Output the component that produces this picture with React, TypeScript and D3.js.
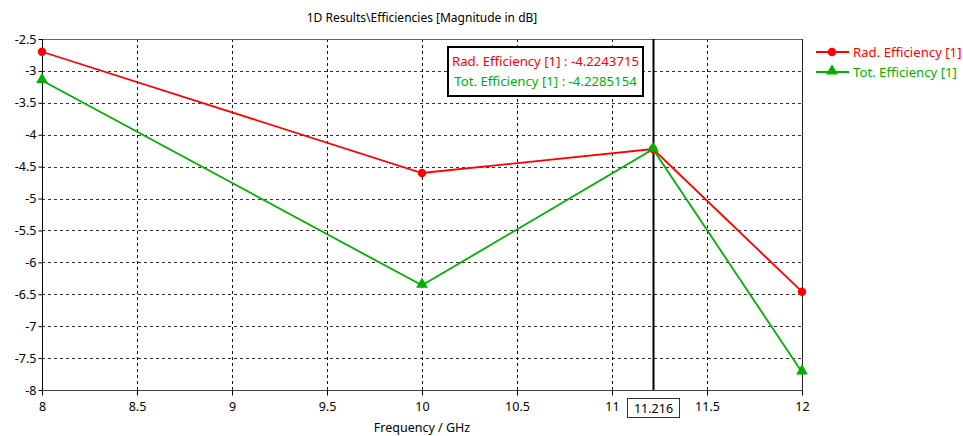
import React from "react";
import * as d3 from "d3";

const freqs = [8, 10, 11.216, 12];
const radEff = [-2.7, -4.6, -4.2243715, -6.46];
const totEff = [-3.15, -6.36, -4.2285154, -7.72];
const xTicks = [8, 8.5, 9, 9.5, 10, 10.5, 11, 11.5, 12];
const yTicks = [-2.5, -3, -3.5, -4, -4.5, -5, -5.5, -6, -6.5, -7, -7.5, -8];
const markerFreq = 11.216;
const seriesNames = ["Rad. Efficiency [1]", "Tot. Efficiency [1]"];
const markerValues = ["-4.2243715", "-4.2285154"];

const RED = "#ff0000";
const GREEN = "#00b000";
const FONT = "'Noto Sans', 'DejaVu Sans', sans-serif";

function EfficiencyChart() {
  const ref = React.useRef<SVGSVGElement>(null);
  const width = 963;
  const height = 436;
  const left = 42;
  const right = 802;
  const top = 39;
  const bottom = 390;

  React.useEffect(() => {
    document.body.style.margin = "0";
    const svg = d3.select(ref.current);
    svg.selectAll("*").remove();

    const x = d3.scaleLinear().domain([8, 12]).range([left, right]);
    const y = d3.scaleLinear().domain([-8, -2.5]).range([bottom, top]);

    svg.append("rect").attr("width", width).attr("height", height).attr("fill", "#fff");

    // grid
    svg
      .append("g")
      .selectAll("line")
      .data(yTicks.slice(1, -1))
      .enter()
      .append("line")
      .attr("x1", left)
      .attr("x2", right)
      .attr("y1", (d) => Math.round(y(d)) + 0.5)
      .attr("y2", (d) => Math.round(y(d)) + 0.5)
      .attr("stroke", "#333")
      .attr("stroke-dasharray", "3,3");
    svg
      .append("g")
      .selectAll("line")
      .data(xTicks.slice(1, -1))
      .enter()
      .append("line")
      .attr("y1", top)
      .attr("y2", bottom)
      .attr("x1", (d) => Math.round(x(d)) + 0.5)
      .attr("x2", (d) => Math.round(x(d)) + 0.5)
      .attr("stroke", "#111")
      .attr("stroke-dasharray", "3,3");

    // frame
    svg.append("line").attr("x1", left).attr("x2", right + 1).attr("y1", top + 0.5).attr("y2", top + 0.5).attr("stroke", "#666");
    svg.append("line").attr("x1", right + 0.5).attr("x2", right + 0.5).attr("y1", top).attr("y2", bottom).attr("stroke", "#222");

    // axes
    const yAxis = d3.axisLeft(y).tickValues(yTicks).tickSize(4).tickFormat((d) => String(d));
    const yg = svg.append("g").attr("transform", `translate(${left + 0.5},0)`).call(yAxis);
    yg.select(".domain").attr("stroke", "#000").attr("d", `M0,${top}V${bottom}`);
    yg.selectAll("text").attr("font-family", FONT).attr("font-size", 12.5).attr("fill", "#000").attr("x", -6);

    const xAxis = d3.axisBottom(x).tickValues(xTicks).tickSize(5).tickFormat((d) => String(d));
    const xg = svg.append("g").attr("transform", `translate(0,${bottom + 0.5})`).call(xAxis);
    xg.select(".domain").attr("stroke", "#444").attr("d", `M${left},0H${right + 1}`);
    xg.selectAll("text").attr("font-family", FONT).attr("font-size", 12.5).attr("fill", "#000").attr("y", 12);

    // marker line
    const mx = Math.round(x(markerFreq)) + 0.5;
    svg.append("line").attr("x1", mx).attr("x2", mx).attr("y1", top).attr("y2", bottom).attr("stroke", "#000").attr("stroke-width", 2);
    svg.append("rect").attr("x", mx - 26).attr("y", 398.5).attr("width", 52).attr("height", 19).attr("fill", "#fff").attr("stroke", "#333");
    svg
      .append("text")
      .attr("x", mx)
      .attr("y", 413)
      .attr("text-anchor", "middle")
      .attr("font-family", FONT)
      .attr("font-size", 12.5)
      .text(String(markerFreq));

    const line = d3
      .line<number>()
      .x((d, i) => x(freqs[i]))
      .y((d) => y(d));

    // series
    svg.append("path").datum(radEff).attr("d", line).attr("fill", "none").attr("stroke", RED).attr("stroke-width", 1.8);
    svg.append("path").datum(totEff).attr("d", line).attr("fill", "none").attr("stroke", GREEN).attr("stroke-width", 1.8);

    const circle = d3.symbol().type(d3.symbolCircle).size(55);
    const tri = d3.symbol().type(d3.symbolTriangle).size(60);
    svg
      .append("g")
      .selectAll("path")
      .data(radEff)
      .enter()
      .append("path")
      .attr("d", circle)
      .attr("transform", (d, i) => `translate(${x(freqs[i])},${y(d)})`)
      .attr("fill", RED);
    svg
      .append("g")
      .selectAll("path")
      .data(totEff)
      .enter()
      .append("path")
      .attr("d", tri)
      .attr("transform", (d, i) => `translate(${x(freqs[i])},${y(d) - 1})`)
      .attr("fill", GREEN);

    // marker readout box
    svg.append("rect").attr("x", 448).attr("y", 47).attr("width", 195).attr("height", 49).attr("fill", "#fff").attr("stroke", "#000").attr("stroke-width", 2);
    [RED, GREEN].forEach((c, i) => {
      svg
        .append("text")
        .attr("x", 545.5)
        .attr("y", 66 + i * 20)
        .attr("text-anchor", "middle")
        .attr("font-family", FONT)
        .attr("font-size", 13.2)
        .attr("fill", c)
        .text(`${seriesNames[i]} : ${markerValues[i]}`);
    });

    // title & axis label
    svg.append("text").attr("x", 422).attr("y", 22).attr("text-anchor", "middle").attr("font-family", FONT).attr("font-size", 12).text("1D Results\\Efficiencies [Magnitude in dB]");
    svg.append("text").attr("x", 422).attr("y", 432).attr("text-anchor", "middle").attr("font-family", FONT).attr("font-size", 12.5).text("Frequency / GHz");

    // legend
    const legend = svg
      .selectAll(".legend")
      .data([RED, GREEN])
      .enter()
      .append("g")
      .attr("class", "legend")
      .attr("transform", (d, i) => `translate(816,${52 + i * 20})`);
    legend.append("line").attr("x1", 0).attr("x2", 33).attr("stroke", (d) => d).attr("stroke-width", 1.8);
    legend
      .append("path")
      .attr("d", (d, i) => (i === 0 ? circle() : tri()))
      .attr("transform", (d, i) => `translate(16,${i === 0 ? 0 : -1})`)
      .attr("fill", (d) => d);
    legend
      .append("text")
      .attr("x", 37)
      .attr("y", 4.5)
      .attr("font-family", FONT)
      .attr("font-size", 13.2)
      .attr("fill", (d) => d)
      .text((d, i) => seriesNames[i]);
  }, []);

  return <svg ref={ref} width={width} height={height} style={{ display: "block" }} />;
}

export default function App() {
  return <EfficiencyChart />;
}
